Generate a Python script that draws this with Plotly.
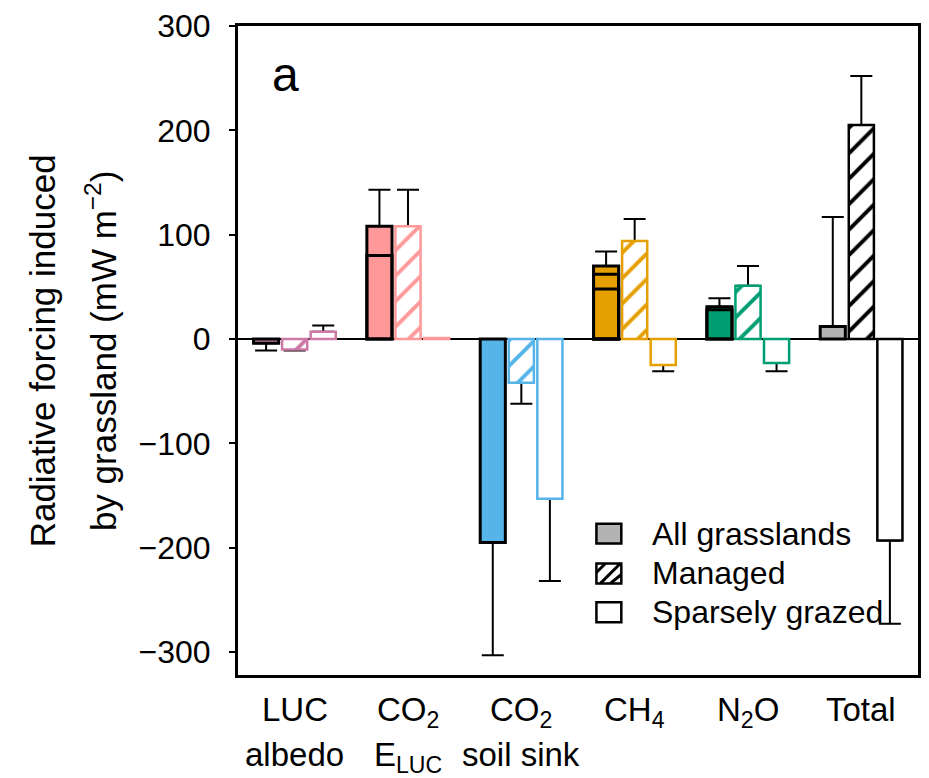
import plotly.graph_objects as go

# ---- data -------------------------------------------------------------
categories = ["LUC albedo", "CO2 ELUC", "CO2 soil sink", "CH4", "N2O", "Total"]
label_line1 = ["LUC", "CO<sub>2</sub>", "CO<sub>2</sub>", "CH<sub>4</sub>", "N<sub>2</sub>O", "Total"]
label_line2 = ["albedo", "E<sub>LUC</sub>", "soil sink", "", "", ""]

all_vals = [-4, 108, -195, 70, 31, 12]
all_err = [7, 35, 108, 14, 8, 105]
managed_vals = [-10, 108, -42, 94, 51, 205]
managed_err = [1, 35, 20, 21, 19, 47]
sparse_vals = [7, 1, -153, -25, -23, -193]
sparse_err = [6, 0, 79, 6, 8, 80]

# component boundaries shown inside the All-grasslands bars
all_split_a = [None, 80, None, 62, 28, None]
all_split_b = [None, None, None, 48, None, None]

# ---- styling ------------------------------------------------------------
edge_colors = ["#cc79a7", "#ff9999", "#56b4e9", "#e69f00", "#009e73", "#000000"]
all_fill = ["#cc79a7", "#ff9999", "#56b4e9", "#e69f00", "#009e73", "#b3b3b3"]
FONT = "Liberation Sans, Arial, Helvetica, sans-serif"

W, H = 929, 778
M = dict(l=238, r=8, t=23, b=103)
PW = W - M["l"] - M["r"]
PH = H - M["t"] - M["b"]


def px_x(x):
    return (x - M["l"]) / PW


def px_y(y):
    return (H - M["b"] - y) / PH


def one_sided_errors(vals, errs):
    plus = [e if v >= 0 else 0 for v, e in zip(vals, errs)]
    minus = [0 if v >= 0 else e for v, e in zip(vals, errs)]
    return dict(type="data", symmetric=False, array=plus, arrayminus=minus,
                color="black", thickness=2, width=11)


def error_only(vals, errs, group):
    # transparent bars that only carry the whiskers; drawn beneath the real bars
    return go.Bar(
        x=categories, y=[v if e else None for v, e in zip(vals, errs)],
        offsetgroup=group, marker=dict(color="rgba(0,0,0,0)", line=dict(width=0)),
        error_y=one_sided_errors(vals, errs), showlegend=False, hoverinfo="skip",
    )


fig = go.Figure()

fig.add_trace(error_only(all_vals, all_err, "all"))
fig.add_trace(error_only(managed_vals, managed_err, "managed"))
fig.add_trace(error_only(sparse_vals, sparse_err, "sparse"))

fig.add_trace(go.Bar(
    x=categories, y=all_vals, offsetgroup="all", name="All grasslands",
    marker=dict(color=all_fill, line=dict(color="black", width=3)),
    showlegend=False,
))
fig.add_trace(go.Bar(
    x=categories, y=managed_vals, offsetgroup="managed", name="Managed",
    marker=dict(color="white", line=dict(color=edge_colors, width=2.5),
                pattern=dict(shape="/", fillmode="replace", fgcolor=edge_colors,
                             bgcolor="white", size=18, solidity=0.22)),
    showlegend=False,
))
fig.add_trace(go.Bar(
    x=categories, y=sparse_vals, offsetgroup="sparse", name="Sparsely grazed",
    marker=dict(color="white", line=dict(color=edge_colors, width=2.5)),
    showlegend=False,
))
for split in (all_split_a, all_split_b):
    fig.add_trace(go.Bar(
        x=categories, y=split, offsetgroup="all",
        marker=dict(color="rgba(0,0,0,0)", line=dict(color="black", width=3)),
        showlegend=False, hoverinfo="skip",
    ))

# ---- category labels (two lines each) ---------------------------------------
annotations = []
for cat, l1, l2 in zip(categories, label_line1, label_line2):
    annotations.append(dict(x=cat, xref="x", y=px_y(690), yref="paper", text=l1,
                            showarrow=False, xanchor="center", yanchor="top",
                            font=dict(family=FONT, size=33, color="black"), borderpad=0))
    if l2:
        annotations.append(dict(x=cat, xref="x", y=px_y(735), yref="paper", text=l2,
                                showarrow=False, xanchor="center", yanchor="top",
                                font=dict(family=FONT, size=33, color="black"), borderpad=0))

# ---- y-axis title ------------------------------------------------------------
annotations.append(dict(x=px_x(42), y=0.5, xref="paper", yref="paper", textangle=-90,
                        text="Radiative forcing induced", showarrow=False,
                        xanchor="center", yanchor="middle",
                        font=dict(family=FONT, size=35, color="black")))
annotations.append(dict(x=px_x(100), y=0.5, xref="paper", yref="paper", textangle=-90,
                        text="by grassland (mW m<sup>\u22122</sup>)", showarrow=False,
                        xanchor="center", yanchor="middle",
                        font=dict(family=FONT, size=35, color="black")))

# ---- panel letter ------------------------------------------------------------
annotations.append(dict(x=px_x(286), y=px_y(72), xref="paper", yref="paper", text="a",
                        showarrow=False, xanchor="center", yanchor="middle",
                        font=dict(family=FONT, size=48, color="black")))

# ---- legend --------------------------------------------------------------------
legend_labels = ["All grasslands", "Managed", "Sparsely grazed"]
legend_rows = [533, 573, 612]
sw_x0, sw_x1, sw_h = 598, 623, 20
shapes = []
for i, (lab, yc) in enumerate(zip(legend_labels, legend_rows)):
    fill = "#b3b3b3" if i == 0 else "white"
    shapes.append(dict(type="rect", xref="paper", yref="paper",
                       x0=px_x(sw_x0), x1=px_x(sw_x1),
                       y0=px_y(yc + sw_h / 2), y1=px_y(yc - sw_h / 2),
                       fillcolor=fill, line=dict(color="black", width=2.5), layer="above"))
    if i == 1:
        top, bot = yc - sw_h / 2, yc + sw_h / 2
        hatch = [((sw_x0, top + 9), (sw_x0 + 9, top)),
                 ((sw_x0 + 4, bot), (sw_x0 + 24, top)),
                 ((sw_x0 + 14, bot), (sw_x1, top + 11))]
        for (xa, ya), (xb, yb) in hatch:
            shapes.append(dict(type="line", xref="paper", yref="paper",
                               x0=px_x(xa), y0=px_y(ya), x1=px_x(xb), y1=px_y(yb),
                               line=dict(color="black", width=3), layer="above"))
    annotations.append(dict(x=px_x(652), y=px_y(yc), xref="paper", yref="paper",
                            text=lab, showarrow=False, xanchor="left", yanchor="middle",
                            font=dict(family=FONT, size=32, color="black")))

fig.update_layout(
    width=W, height=H,
    margin=M,
    paper_bgcolor="white", plot_bgcolor="white",
    barmode="group", bargap=0.244, bargroupgap=0.12,
    font=dict(family=FONT, size=32, color="black"),
    showlegend=False,
    annotations=annotations,
    shapes=shapes,
    xaxis=dict(
        range=[-0.5, 5.5], showticklabels=False, ticks="",
        showline=True, linecolor="black", linewidth=3, mirror=True,
        showgrid=False, zeroline=False,
    ),
    yaxis=dict(
        range=[-322, 300], tickvals=[-300, -200, -100, 0, 100, 200, 300],
        ticks="outside", ticklen=6, tickwidth=2, tickcolor="black",
        tickfont=dict(family=FONT, size=32, color="black"), ticklabelstandoff=12,
        showline=True, linecolor="black", linewidth=3, mirror=True,
        showgrid=False, zeroline=True, zerolinecolor="black", zerolinewidth=1.5,
    ),
)

fig.write_html("out.html")
